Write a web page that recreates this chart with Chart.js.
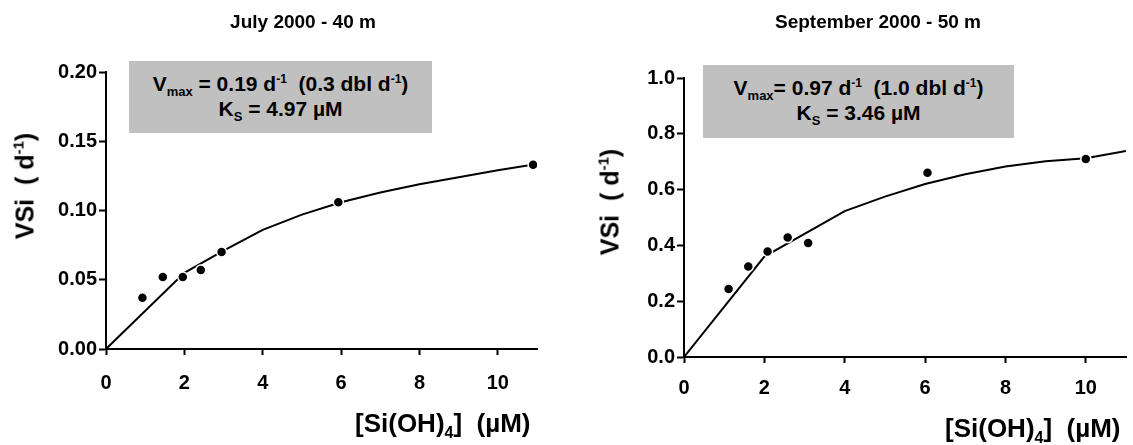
<!DOCTYPE html>
<html>
<head>
<meta charset="utf-8">
<script src="https://cdn.jsdelivr.net/npm/chart.js@4/dist/chart.umd.min.js"></script>
<style>
	body { margin: 0; background: #fff; width: 1133px; height: 445px; position: relative; overflow: hidden; font-family: 'Liberation Sans', Arial, sans-serif; font-weight: bold; color: #000; }
	canvas { position: absolute; top: 0; }
	.title { position: absolute; top: 11px; font-size: 19px; white-space: nowrap; transform: translateX(-50%); }
	.box { position: absolute; background: #c0c0c0; text-align: center; font-size: 21px; line-height: 25px; padding-top: 10px; box-sizing: border-box; white-space: nowrap; }
	.box sub { font-size: 13px; vertical-align: -5px; line-height: 0; }
	.box sup { font-size: 12px; vertical-align: 8px; line-height: 0; }
	.ytitle { position: absolute; font-size: 25px; white-space: nowrap; transform: translate(-50%, -50%) rotate(-90deg); }
	.ytitle sup { font-size: 15px; vertical-align: 10px; line-height: 0; }
	.xtitle { position: absolute; font-size: 26px; white-space: nowrap; line-height: 30px; }
	.xtitle sub { font-size: 16px; vertical-align: -6px; line-height: 0; }
</style>
</head>
<body>
<canvas id="july-chart" width="566" height="445" style="left:0"></canvas>
<canvas id="sept-chart" width="567" height="445" style="left:566px"></canvas>

<div class="title" style="left:303px">July 2000 - 40 m</div>
<div class="title" style="left:878px">September 2000 - 50 m</div>

<div class="box" style="left:129px; top:61px; width:303px; height:72px">V<sub>max</sub> = 0.19 d<sup>-1</sup> &nbsp;(0.3 dbl d<sup>-1</sup>)<br>K<sub>S</sub> = 4.97 µM</div>
<div class="box" style="left:703px; top:65px; width:311px; height:73px">V<sub>max</sub>= 0.97 d<sup>-1</sup> &nbsp;(1.0 dbl d<sup>-1</sup>)<br>K<sub>S</sub> = 3.46 µM</div>

<div class="ytitle" style="left:25px; top:186px">VSi &nbsp;( d<sup>-1</sup>)</div>
<div class="ytitle" style="left:610px; top:202px">VSi &nbsp;( d<sup>-1</sup>)</div>

<div class="xtitle" style="left:355px; top:408px">[Si(OH)<sub>4</sub>] &nbsp;(µM)</div>
<div class="xtitle" style="left:945px; top:413px">[Si(OH)<sub>4</sub>] &nbsp;(µM)</div>

<script>
// July 2000 - 40 m : measured uptake and fitted curve
const julyX = [0.93, 1.45, 1.96, 2.42, 2.95, 5.93, 10.9];
const julyY = [0.037, 0.052, 0.052, 0.057, 0.070, 0.106, 0.133];
const julyFitX = [0, 2, 3, 4, 5, 6, 7, 8, 9, 10, 11];
const julyFitY = [0, 0.055, 0.071, 0.086, 0.097, 0.106, 0.113, 0.119, 0.124, 0.129, 0.1335];

// September 2000 - 50 m
const septX = [1.11, 1.60, 2.08, 2.58, 3.09, 6.06, 10.0];
const septY = [0.244, 0.324, 0.378, 0.428, 0.409, 0.66, 0.71];
const septFitX = [0, 2, 4, 5, 6, 7, 8, 9, 10, 11];
const septFitY = [0, 0.36, 0.523, 0.575, 0.62, 0.655, 0.683, 0.702, 0.712, 0.738];

const xTicks = [0, 2, 4, 6, 8, 10];

Chart.defaults.font.family = "'Liberation Sans', Arial, sans-serif";
Chart.defaults.font.weight = 'bold';
Chart.defaults.color = '#000';

function toPoints(xs, ys) {
	return xs.map((x, i) => ({ x, y: ys[i] }));
}

function makeChart(elem, obs, fit, yOpts, box) {
	return new Chart(elem, {
		type: 'scatter',
		data: {
			datasets: [
				{
					data: obs,
					backgroundColor: '#000',
					borderColor: '#fff',
					pointRadius: 5,
					pointBorderWidth: 1.5,
					order: 0
				},
				{
					data: fit,
					showLine: true,
					borderColor: '#000',
					borderWidth: 2,
					pointRadius: 0,
					tension: 0,
					order: 1
				}
			]
		},
		options: {
			responsive: false,
			animation: false,
			events: [],
			layout: {
				padding: { top: box.top, right: box.right, left: 0, bottom: 0 }
			},
			plugins: {
				legend: { display: false },
				tooltip: { enabled: false }
			},
			scales: {
				x: {
					type: 'linear',
					min: 0,
					max: 11,
					afterFit: scale => { scale.height = box.xHeight; },
					afterBuildTicks: scale => { scale.ticks = xTicks.map(v => ({ value: v })); },
					ticks: { font: { size: 20 }, padding: box.xPad },
					grid: { drawOnChartArea: false, drawTicks: true, tickLength: 6, tickColor: '#000', tickWidth: 2 },
					border: { color: '#000', width: 2 }
				},
				y: {
					type: 'linear',
					min: 0,
					max: yOpts.max,
					afterFit: scale => { scale.width = box.yWidth; },
					afterBuildTicks: scale => { scale.ticks = yOpts.ticks.map(v => ({ value: v })); },
					ticks: {
						font: { size: 20 },
						padding: 2,
						callback: v => v.toFixed(yOpts.decimals)
					},
					grid: { drawOnChartArea: false, drawTicks: true, tickLength: 7, tickColor: '#000', tickWidth: 2 },
					border: { color: '#000', width: 2 }
				}
			}
		}
	});
}

makeChart(
	document.querySelector('#july-chart'),
	toPoints(julyX, julyY),
	toPoints(julyFitX, julyFitY),
	{ max: 0.2, ticks: [0, 0.05, 0.1, 0.15, 0.2], decimals: 2 },
	{ top: 72, right: 29, xHeight: 96, yWidth: 106, xPad: 16 }
);

makeChart(
	document.querySelector('#sept-chart'),
	toPoints(septX, septY),
	toPoints(septFitX, septFitY),
	{ max: 1.0, ticks: [0, 0.2, 0.4, 0.6, 0.8, 1.0], decimals: 1 },
	{ top: 78, right: 7, xHeight: 88, yWidth: 118, xPad: 13 }
);
</script>
</body>
</html>
